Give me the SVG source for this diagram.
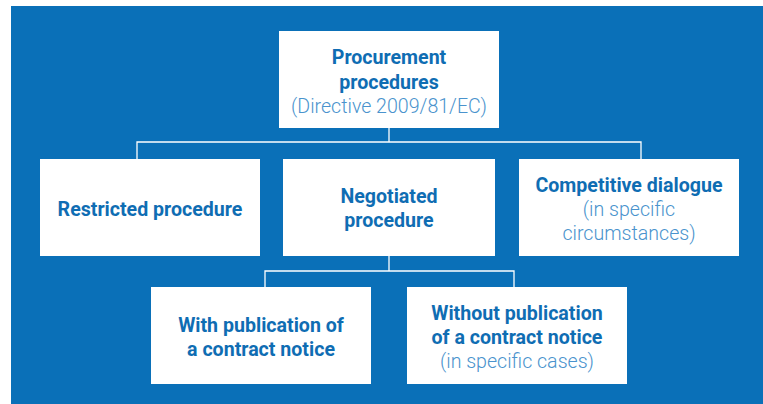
<svg xmlns="http://www.w3.org/2000/svg" width="763" height="404" viewBox="0 0 763 404">
<style>
.node{fill:#fff}
.b{font-family:Roboto,"Liberation Sans",sans-serif;font-weight:700;font-size:19.6px;fill:#0f6db3;text-anchor:middle}
.l{font-family:Roboto,"Liberation Sans",sans-serif;font-weight:300;font-size:19.6px;fill:#4a93cd;text-anchor:middle}
.c{fill:none;stroke:#fff;stroke-width:1.3}
</style>
<rect x="11" y="6" width="752" height="398" fill="#0a70b8"/>
<g id="connectors">
<path class="c" d="M389 127V142M137 159V142H641V159"/>
<path class="c" d="M389 256V271M265 287V271H514V287"/>
</g>
<g id="n-procurement">
<rect class="node" x="279" y="31" width="220" height="97"/>
<text class="b" x="389" y="64">Procurement</text>
<text class="b" x="389" y="89">procedures</text>
<text class="l" x="389" y="113">(Directive 2009/81/EC)</text>
</g>
<g id="n-restricted">
<rect class="node" x="40" y="159" width="220" height="97"/>
<text class="b" x="150" y="216">Restricted procedure</text>
</g>
<g id="n-negotiated">
<rect class="node" x="283" y="159" width="212" height="97"/>
<text class="b" x="389" y="203">Negotiated</text>
<text class="b" x="389" y="227">procedure</text>
</g>
<g id="n-competitive">
<rect class="node" x="519" y="159" width="220" height="97"/>
<text class="b" x="629" y="192">Competitive dialogue</text>
<text class="l" x="629" y="216">(in specific</text>
<text class="l" x="629" y="240">circumstances)</text>
</g>
<g id="n-with">
<rect class="node" x="151" y="287" width="220" height="97"/>
<text class="b" x="261" y="332">With publication of</text>
<text class="b" x="261" y="356">a contract notice</text>
</g>
<g id="n-without">
<rect class="node" x="407" y="287" width="220" height="97"/>
<text class="b" x="517" y="320">Without publication</text>
<text class="b" x="517" y="344">of a contract notice</text>
<text class="l" x="517" y="368">(in specific cases)</text>
</g>
</svg>
